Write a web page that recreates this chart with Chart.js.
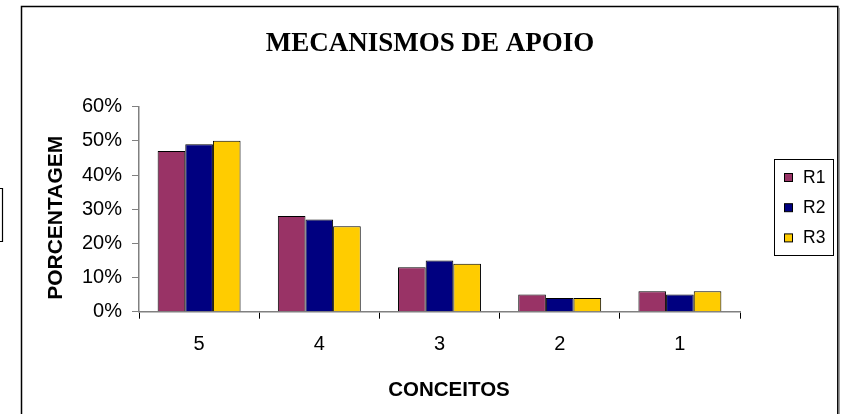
<!DOCTYPE html>
<html>
<head>
<meta charset="utf-8">
<script src="https://cdn.jsdelivr.net/npm/chart.js@4/dist/chart.umd.min.js"></script>
<style>
  html, body { margin: 0; padding: 0; background: #fff; }
  #c { display: block; }
</style>
</head>
<body>
<canvas id="c" width="843" height="414"></canvas>
<script>
const categories = ['5', '4', '3', '2', '1'];
const seriesNames = ['R1', 'R2', 'R3'];
const r1Values = [0.47, 0.28, 0.13, 0.05, 0.06];
const r2Values = [0.49, 0.27, 0.15, 0.04, 0.05];
const r3Values = [0.50, 0.25, 0.14, 0.04, 0.06];
const seriesColors = ['#993366', '#000080', '#FFCC00'];
const yTickValues = [0, 0.1, 0.2, 0.3, 0.4, 0.5, 0.6];
const chartTitle = 'MECANISMOS DE APOIO';
const yTitle = 'PORCENTAGEM';
const xTitle = 'CONCEITOS';

const SANS = '"Liberation Sans", Arial, sans-serif';
const SERIF = '"Liberation Serif", "Times New Roman", serif';

const decorPlugin = {
  id: 'decor',
  beforeDraw(chart) {
    const ctx = chart.ctx;
    ctx.save();
    ctx.fillStyle = '#fff';
    ctx.fillRect(0, 0, chart.width, chart.height);
    // outer frame (no bottom edge visible)
    ctx.strokeStyle = '#a0a0a0';
    ctx.lineWidth = 1;
    ctx.beginPath();
    ctx.moveTo(839.5, 8);
    ctx.lineTo(839.5, 414);
    ctx.stroke();
    ctx.strokeStyle = '#000';
    ctx.lineWidth = 1.5;
    ctx.beginPath();
    ctx.moveTo(21.5, 414);
    ctx.lineTo(21.5, 6.5);
    ctx.lineTo(837.8, 6.5);
    ctx.lineTo(837.8, 414);
    ctx.stroke();
    // small box fragment at far left
    ctx.lineWidth = 1.2;
    ctx.beginPath();
    ctx.moveTo(-2, 188.5);
    ctx.lineTo(2.5, 188.5);
    ctx.lineTo(2.5, 241.5);
    ctx.lineTo(-2, 241.5);
    ctx.stroke();
    ctx.restore();
  },
  afterDraw(chart) {
    const ctx = chart.ctx;
    ctx.save();
    ctx.fillStyle = '#000';
    // title
    ctx.font = 'bold 27px ' + SERIF;
    ctx.textAlign = 'center';
    ctx.textBaseline = 'alphabetic';
    ctx.fillText(chartTitle, 430, 50.5);
    // x axis title
    ctx.font = 'bold 20.5px ' + SANS;
    ctx.textBaseline = 'middle';
    ctx.fillText(xTitle, 449, 390);
    // y axis title
    ctx.save();
    ctx.translate(55, 217.8);
    ctx.rotate(-Math.PI / 2);
    ctx.font = 'bold 21px ' + SANS;
    ctx.fillText(yTitle, 0, 1);
    ctx.restore();
    // legend
    ctx.lineWidth = 1;
    ctx.strokeStyle = '#000';
    ctx.strokeRect(774.5, 159.5, 59, 96);
    const ds = chart.data.datasets;
    const ys = [177.5, 207.7, 237.9];
    ctx.font = '17.5px ' + SANS;
    ctx.textAlign = 'left';
    ds.forEach((d, i) => {
      ctx.fillStyle = d.backgroundColor;
      ctx.fillRect(784.5, ys[i] - 4, 8, 8);
      ctx.strokeRect(784.5, ys[i] - 4, 8, 8);
      ctx.fillStyle = '#000';
      ctx.fillText(d.label, 803, ys[i] + 0.5);
    });
    ctx.restore();
  }
};

const allSeries = [r1Values, r2Values, r3Values];

new Chart(document.getElementById('c'), {
  type: 'bar',
  data: {
    labels: categories,
    datasets: seriesNames.map((name, i) => ({
      label: name,
      data: allSeries[i],
      backgroundColor: seriesColors[i],
      borderColor: '#000',
      borderWidth: 1,
      categoryPercentage: 0.69,
      barPercentage: 1.0
    }))
  },
  options: {
    responsive: false,
    animation: false,
    devicePixelRatio: 1,
    layout: { padding: { left: 0, right: 103, top: 106.7, bottom: 62.3 } },
    plugins: {
      legend: { display: false },
      title: { display: false },
      tooltip: { enabled: false }
    },
    scales: {
      x: {
        offset: true,
        grid: {
          display: true,
          offset: true,
          drawOnChartArea: false,
          drawTicks: true,
          tickLength: 7,
          color: '#000',
          lineWidth: 1
        },
        border: { display: true, color: '#808080', width: 1.5 },
        ticks: {
          color: '#000',
          font: { family: SANS, size: 20 },
          padding: 14,
          maxRotation: 0
        },
        afterFit(scale) { scale.height = 40; }
      },
      y: {
        min: 0,
        max: 0.6,
        afterBuildTicks(scale) {
          scale.ticks = yTickValues.map(v => ({ value: v }));
        },
        grid: {
          display: true,
          drawOnChartArea: false,
          drawTicks: true,
          tickLength: 7,
          color: '#808080',
          lineWidth: 1
        },
        border: { display: true, color: '#808080', width: 1.5 },
        ticks: {
          color: '#000',
          font: { family: SANS, size: 20 },
          padding: 10,
          callback: v => Math.round(v * 100) + '%'
        },
        afterFit(scale) { scale.width = 139; }
      }
    }
  },
  plugins: [decorPlugin]
});
</script>
</body>
</html>
